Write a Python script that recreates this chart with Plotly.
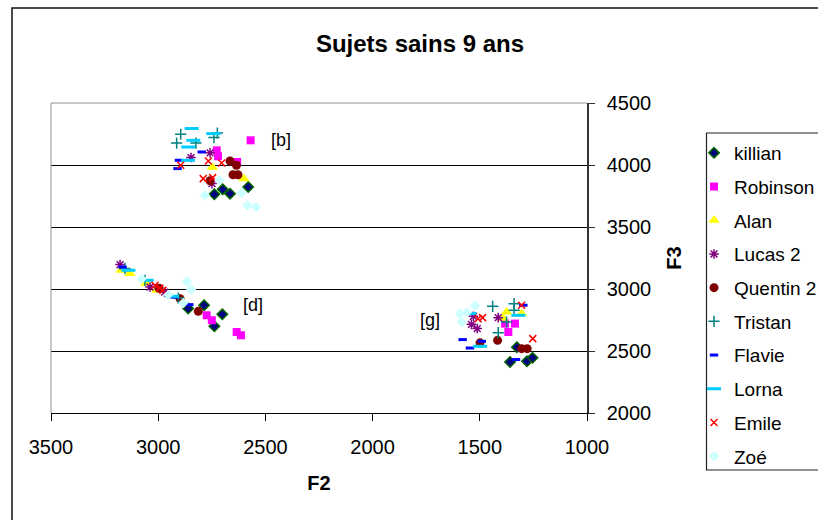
import plotly.graph_objects as go

# ---- data (F2 = x, F3 = y) ----
killian_f2 = [2580, 2699, 2738, 2665, 2786, 2860, 2701, 2738, 1359, 1280, 1254, 1327]
killian_f3 = [3823, 3804, 3764, 3769, 2869, 2842, 2796, 2699, 2411, 2417, 2445, 2530]

robinson_f2 = [2569, 2727, 2721, 2632, 2774, 2750, 2634, 2614, 1382, 1336, 1367]
robinson_f3 = [4199, 4118, 4070, 4024, 2788, 2748, 2653, 2627, 2721, 2721, 2653]

alan_f2 = [2747, 2600, 3174, 3132, 3057, 3007, 1375, 1305, 1392]
alan_f3 = [3981, 3889, 3151, 3124, 3047, 2989, 2815, 2802, 2764]

lucas_f2 = [2847, 2758, 2749, 3178, 3038, 2970, 1530, 1539, 1512, 1414]
lucas_f3 = [4060, 4098, 3850, 3197, 3016, 2975, 2780, 2715, 2681, 2769]

quentin_f2 = [2665, 2635, 2651, 2628, 2758, 2996, 2898, 2813, 1417, 1499, 1305, 1279]
quentin_f3 = [4032, 3998, 3921, 3921, 3873, 3006, 2922, 2820, 2586, 2566, 2519, 2519]

tristan_f2 = [2895, 2724, 2914, 2824, 2740, 3155, 3062, 2906, 1440, 1340, 1340, 1375, 1414]
tristan_f3 = [4248, 4258, 4177, 4177, 4221, 3166, 3070, 2927, 2860, 2882, 2828, 2734, 2648]

flavie_f2 = [2903, 2910, 2797, 3166, 2926, 2855, 1580, 1546, 1491, 1297, 1331]
flavie_f3 = [4038, 3971, 4105, 3177, 2935, 2874, 2592, 2524, 2578, 2869, 2431]

lorna_f2 = [2844, 2743, 2860, 2836, 2861, 3139, 3054, 2936, 1549, 1320, 1499]
lorna_f3 = [4294, 4253, 4145, 4199, 4038, 3151, 3070, 2941, 2802, 2788, 2538]

emile_f2 = [2895, 2766, 2704, 2790, 2746, 3015, 2992, 2978, 1487, 1508, 1305, 1253]
emile_f3 = [3998, 4032, 4016, 3890, 3898, 3030, 3006, 2990, 2769, 2760, 2869, 2600]

zoe_f2 = [2782, 2715, 2611, 2583, 2544, 3077, 2866, 2847, 2953, 2883, 1592, 1584, 1522, 1560]
zoe_f3 = [3756, 3877, 3774, 3675, 3661, 3082, 3060, 2996, 2953, 2887, 2802, 2734, 2865, 2812]

vowel_labels = ["[b]", "[d]", "[g]"]
vowel_f2 = [2427, 2558, 1732]
vowel_f3 = [4199, 2869, 2748]

x_ticks = [3500, 3000, 2500, 2000, 1500, 1000]
y_ticks = [2000, 2500, 3000, 3500, 4000, 4500]

FONT = "Liberation Sans, Arial, sans-serif"

series = [
    ("killian", killian_f2, killian_f3, dict(symbol="diamond", size=8, color="#000080", line=dict(color="#006400", width=1.5))),
    ("Robinson", robinson_f2, robinson_f3, dict(symbol="square", size=8, color="#FF00FF", line=dict(width=0))),
    ("Alan", alan_f2, alan_f3, dict(symbol="triangle-up", size=10, color="#FFFF00", line=dict(width=0))),
    ("Lucas 2", lucas_f2, lucas_f3, dict(symbol="asterisk-open", size=8, color="#800080", line=dict(color="#800080", width=1.5))),
    ("Quentin 2", quentin_f2, quentin_f3, dict(symbol="circle", size=9, color="#800000", line=dict(width=0))),
    ("Tristan", tristan_f2, tristan_f3, dict(symbol="cross-thin-open", size=8, color="#008080", line=dict(color="#008080", width=1.5))),
    ("Flavie", flavie_f2, flavie_f3, dict(symbol="line-ew-open", size=6, color="#0000FF", line=dict(color="#0000FF", width=3))),
    ("Lorna", lorna_f2, lorna_f3, dict(symbol="line-ew-open", size=10, color="#00CCFF", line=dict(color="#00CCFF", width=3))),
    ("Emile", emile_f2, emile_f3, dict(symbol="x-thin-open", size=7, color="#FF0000", line=dict(color="#FF0000", width=1.5))),
    ("Zoé", zoe_f2, zoe_f3, dict(symbol="diamond", size=8, color="#CCFFFF", line=dict(width=0))),
]

fig = go.Figure()
for name, xs, ys, mk in series:
    fig.add_trace(go.Scatter(x=xs, y=ys, mode="markers", name=name, marker=mk,
                             legendgroup=name, showlegend=True))

for lab, fx, fy in zip(vowel_labels, vowel_f2, vowel_f3):
    fig.add_annotation(x=fx, y=fy, text=lab, showarrow=False,
                       font=dict(family=FONT, size=18, color="#000"))

W, H = 818, 520
L, R, T, B = 51, 231, 103, 107
pw, ph = W - L - R, H - T - B

def px2paper_x(px):
    return (px - L) / pw

def px2paper_y(py):
    return (H - B - py) / ph

shapes = [
    # outer chart frame
    dict(type="rect", xref="paper", yref="paper",
         x0=px2paper_x(12), x1=px2paper_x(840), y0=px2paper_y(540), y1=px2paper_y(8),
         line=dict(color="#111", width=1.5), fillcolor="rgba(0,0,0,0)", layer="below"),
    # plot area gray border (top and left)
    dict(type="line", xref="paper", yref="paper", x0=0, x1=1, y0=1, y1=1,
         line=dict(color="#909090", width=1), layer="above"),
    dict(type="line", xref="paper", yref="paper", x0=0, x1=0, y0=0, y1=1,
         line=dict(color="#909090", width=1), layer="above"),
    # legend box
    dict(type="rect", xref="paper", yref="paper",
         x0=px2paper_x(706.5), x1=px2paper_x(840), y0=px2paper_y(470), y1=px2paper_y(133),
         line=dict(color="#222", width=1.2), fillcolor="rgba(0,0,0,0)", layer="above"),
]

fig.update_layout(
    width=W, height=H,
    margin=dict(l=L, r=R, t=T, b=B, autoexpand=False),
    paper_bgcolor="white", plot_bgcolor="white",
    font=dict(family=FONT, size=20, color="#000"),
    title=dict(text="<b>Sujets sains 9 ans</b>", x=420 / W, xref="container", xanchor="center",
               y=1 - 44 / H, yref="container", yanchor="middle",
               font=dict(family=FONT, size=24, color="#000")),
    showlegend=True,
    legend=dict(x=px2paper_x(694), y=px2paper_y(134), xanchor="left", yanchor="top",
                xref="paper", yref="paper", maxheight=420,
                bgcolor="rgba(0,0,0,0)", borderwidth=0,
                font=dict(family=FONT, size=19, color="#000"),
                traceorder="grouped", tracegroupgap=6, itemsizing="trace"),
    shapes=shapes,
    xaxis=dict(range=[3500, 1000], tickvals=x_ticks, showgrid=False, zeroline=False,
               showline=True, linecolor="#000", linewidth=1,
               ticks="outside", ticklen=7, tickcolor="#000", tickwidth=1,
               tickfont=dict(family=FONT, size=20, color="#000"),
               ticklabelstandoff=9,
               title=dict(text="<b>F2</b>", font=dict(family=FONT, size=20, color="#000"), standoff=18)),
    yaxis=dict(range=[2000, 4500], tickvals=y_ticks, side="right", showgrid=True,
               gridcolor="#000", gridwidth=1, zeroline=False,
               showline=True, linecolor="#333", linewidth=1.5,
               ticks="outside", ticklen=6, tickcolor="#333", tickwidth=1,
               tickfont=dict(family=FONT, size=20, color="#000"),
               ticklabelstandoff=8,
               title=dict(text="<b>F3</b>", font=dict(family=FONT, size=20, color="#000"), standoff=17)),
)

fig.write_html("out.html",
               config={"displayModeBar": False},
               post_script="document.body.style.margin='0px';document.body.style.overflow='hidden';")
